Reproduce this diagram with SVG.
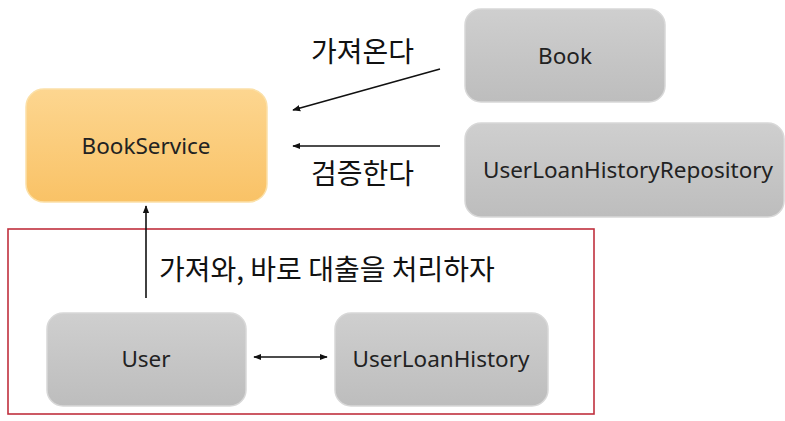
<svg xmlns="http://www.w3.org/2000/svg" width="785" height="421" viewBox="0 0 785 421">
<defs>
<linearGradient id="gray" x1="0" y1="0" x2="0" y2="1">
<stop offset="0" stop-color="#cfcfcf"/>
<stop offset="1" stop-color="#bdbdbd"/>
</linearGradient>
<linearGradient id="orange" x1="0" y1="0" x2="0" y2="1">
<stop offset="0" stop-color="#fdd690"/>
<stop offset="1" stop-color="#f9c266"/>
</linearGradient>
<marker id="ah" viewBox="0 0 10 10" refX="9" refY="5" markerWidth="8" markerHeight="8" markerUnits="userSpaceOnUse" orient="auto-start-reverse">
<path d="M0,1 L10,5 L0,9 Z" fill="#111"/>
</marker>
<style>
.g{fill:url(#gray);stroke:#d8d8d8;stroke-width:1.5}
.o{fill:url(#orange);stroke:#fbe0a8;stroke-width:1.5}
.t{font-family:"Noto Sans","Noto Sans CJK KR",sans-serif;font-size:22.5px;fill:#222;text-anchor:middle;dominant-baseline:central}
.k{font-family:"Noto Sans CJK KR","Noto Sans",sans-serif;font-size:28px;fill:#111}
.c{stroke:#111;stroke-width:1.6;fill:none}
</style>
</defs>
<rect width="785" height="421" fill="#fff"/>
<rect x="8" y="229" width="586" height="185" fill="none" stroke="#c0303e" stroke-width="1.6"/>
<g id="BookService">
<rect class="o" x="26" y="89" width="241" height="113" rx="18"/>
<text class="t" x="146" y="145">BookService</text>
</g>
<g id="Book">
<rect class="g" x="465" y="9" width="200" height="93" rx="16"/>
<text class="t" x="565" y="55">Book</text>
</g>
<g id="UserLoanHistoryRepository">
<rect class="g" x="465" y="123" width="319" height="94" rx="16"/>
<text class="t" x="628" y="169">UserLoanHistoryRepository</text>
</g>
<g id="User">
<rect class="g" x="47" y="313" width="199" height="93" rx="16"/>
<text class="t" x="146" y="358">User</text>
</g>
<g id="UserLoanHistory">
<rect class="g" x="335" y="313" width="213" height="93" rx="16"/>
<text class="t" x="441" y="358">UserLoanHistory</text>
</g>
<g id="connectors">
<line class="c" x1="440" y1="69" x2="293" y2="110" marker-end="url(#ah)"/>
<line class="c" x1="440" y1="146" x2="293" y2="146" marker-end="url(#ah)"/>
<line class="c" x1="146" y1="298" x2="146" y2="206" marker-end="url(#ah)"/>
<line class="c" x1="254" y1="357" x2="327" y2="357" marker-start="url(#ah)" marker-end="url(#ah)"/>
</g>
<g id="labels">
<text class="k" x="311" y="62">가져온다</text>
<text class="k" x="311" y="184">검증한다</text>
<text class="k" x="159" y="280">가져와, 바로 대출을 처리하자</text>
</g>
</svg>
